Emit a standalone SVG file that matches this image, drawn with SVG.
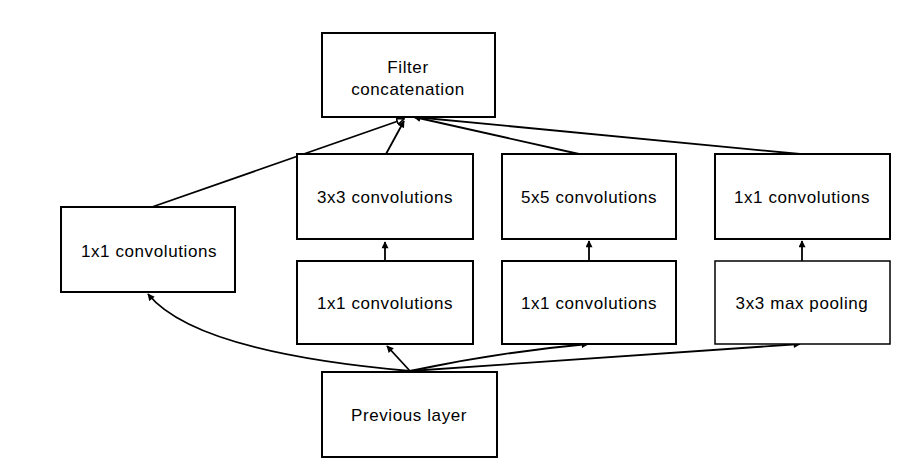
<svg xmlns="http://www.w3.org/2000/svg" width="902" height="467" viewBox="0 0 902 467">
<style>
.box{fill:#fff;stroke:#000;stroke-width:2}
.thin{stroke-width:1.5}
.lbl{font-family:"Liberation Sans",Arial,sans-serif;font-size:17px;fill:#000;text-anchor:middle;letter-spacing:0.6px}
.edge{fill:none;stroke:#000;stroke-width:1.8}
</style>
<defs>
<marker id="ah" viewBox="0 0 10 10" refX="9" refY="5" markerWidth="8" markerHeight="7" markerUnits="userSpaceOnUse" orient="auto">
<path d="M0,0 L10,5 L0,10 z" fill="#000"/>
</marker>
<marker id="ahh" viewBox="0 0 10 10" refX="9" refY="5" markerWidth="9" markerHeight="8" markerUnits="userSpaceOnUse" orient="auto">
<path d="M0,1 L9,5 L0,9 z" fill="#fff" stroke="#000" stroke-width="2"/>
</marker>
</defs>
<rect width="902" height="467" fill="#fff"/>
<g id="edges">
<path class="edge" d="M152,207 L404,119" marker-end="url(#ahh)"/>
<path class="edge" d="M386,154 L404,121" marker-end="url(#ah)"/>
<path class="edge" d="M579,154 L414,117" marker-end="url(#ah)"/>
<path class="edge" d="M800,154 L414,117" marker-end="url(#ah)"/>
<path class="edge" d="M385,261 L385,242" marker-end="url(#ah)"/>
<path class="edge" d="M589,261 L589,241" marker-end="url(#ah)"/>
<path class="edge" d="M802,261 L802,241" marker-end="url(#ah)"/>
<path class="edge" d="M410,371 Q195,352 148,294" marker-end="url(#ah)"/>
<path class="edge" d="M410,371 L387,346" marker-end="url(#ah)"/>
<path class="edge" d="M410,371 Q500,352 588,344" marker-end="url(#ah)"/>
<path class="edge" d="M410,371 L800,344" marker-end="url(#ah)"/>
</g>
<g id="concat">
<rect class="box" x="322" y="33" width="173" height="84"/>
<text class="lbl" x="408" y="73">Filter</text>
<text class="lbl" x="408" y="95">concatenation</text>
</g>
<g id="conv1x1_left">
<rect class="box" x="61" y="207" width="174" height="85"/>
<text class="lbl" x="149" y="257">1x1 convolutions</text>
</g>
<g id="conv3x3">
<rect class="box" x="297" y="154" width="176" height="85"/>
<text class="lbl" x="385" y="203">3x3 convolutions</text>
</g>
<g id="conv5x5">
<rect class="box" x="502" y="154" width="174" height="85"/>
<text class="lbl" x="589" y="203">5x5 convolutions</text>
</g>
<g id="conv1x1_right">
<rect class="box" x="715" y="154" width="175" height="85"/>
<text class="lbl" x="802" y="203">1x1 convolutions</text>
</g>
<g id="conv1x1_mid">
<rect class="box" x="297" y="261" width="176" height="83"/>
<text class="lbl" x="385" y="309">1x1 convolutions</text>
</g>
<g id="conv1x1_mid2">
<rect class="box" x="502" y="261" width="174" height="83"/>
<text class="lbl" x="589" y="309">1x1 convolutions</text>
</g>
<g id="maxpool">
<rect class="box thin" x="715" y="261" width="175" height="83"/>
<text class="lbl" x="802" y="309">3x3 max pooling</text>
</g>
<g id="prev">
<rect class="box" x="322" y="372" width="175" height="85"/>
<text class="lbl" x="409" y="421">Previous layer</text>
</g>
</svg>
